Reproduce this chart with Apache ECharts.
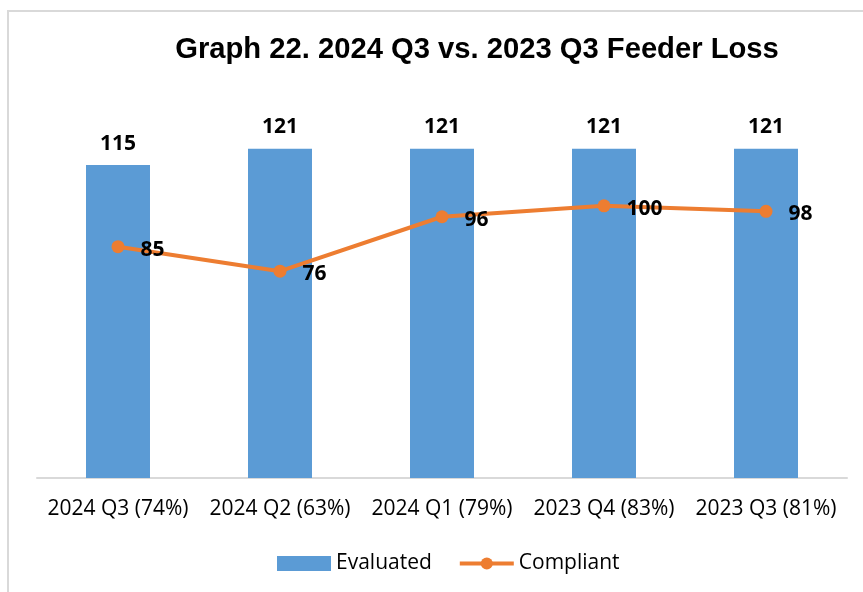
<!DOCTYPE html>
<html>
<head>
<meta charset="utf-8">
<script src="https://cdn.jsdelivr.net/npm/echarts@6/dist/echarts.min.js"></script>
<style>
    html, body { margin: 0; padding: 0; background: #fff; }
    #chartDiv { width: 863px; height: 592px; }
</style>
</head>
<body>
<div id="chartDiv"></div>
<script>
// Chart data
const categories = ['2024 Q3 (74%)', '2024 Q2 (63%)', '2024 Q1 (79%)', '2023 Q4 (83%)', '2023 Q3 (81%)'];
const evaluated = [115, 121, 121, 121, 121];
const compliant = [85, 76, 96, 100, 98];

const chartDom = document.getElementById('chartDiv');
const myChart = echarts.init(chartDom, null, { renderer: 'canvas' });

const option = {
    backgroundColor: '#fff',
    animation: false,
    title: {
        text: 'Graph 22. 2024 Q3 vs. 2023 Q3 Feeder Loss',
        left: 472,
        textAlign: 'center',
        top: 30,
        textStyle: {
            fontFamily: 'Liberation Sans',
            fontWeight: 'bold',
            fontSize: 29.2,
            color: '#000'
        }
    },
    graphic: [
        {
            type: 'rect',
            shape: { x: 8, y: 11, width: 900, height: 700 },
            style: { fill: 'none', stroke: '#d9d9d9', lineWidth: 2 },
            silent: true
        }
    ],
    legend: {
        data: [
            { name: 'Evaluated', icon: 'rect' },
            { name: 'Compliant', lineStyle: { width: 4 } }
        ],
        bottom: 13,
        left: 272,
        itemGap: 26,
        itemWidth: 54,
        itemHeight: 15,
        textStyle: { fontFamily: 'Open Sans', fontSize: 21, color: '#000' }
    },
    grid: { left: 37, right: 16, top: 97, bottom: 114 },
    xAxis: {
        type: 'category',
        data: categories,
        axisLine: { lineStyle: { color: '#d9d9d9', width: 2 } },
        axisTick: { show: false },
        axisLabel: {
            fontFamily: 'Open Sans',
            fontSize: 21,
            color: '#000',
            margin: 21,
            interval: 0
        }
    },
    yAxis: {
        type: 'value',
        min: 0,
        max: 140,
        show: false
    },
    series: [
        {
            name: 'Evaluated',
            type: 'bar',
            data: evaluated,
            barWidth: '39.5%',
            itemStyle: { color: '#5b9bd5' },
            label: {
                show: true,
                position: 'top',
                distance: 11,
                fontFamily: 'Open Sans',
                fontWeight: 'bold',
                fontSize: 21,
                color: '#000'
            }
        },
        {
            name: 'Compliant',
            type: 'line',
            data: compliant,
            symbol: 'circle',
            symbolSize: 13,
            lineStyle: { width: 4, color: '#ed7d31' },
            itemStyle: { color: '#ed7d31' },
            label: {
                show: true,
                position: 'right',
                distance: 16,
                offset: [0, 3],
                fontFamily: 'Open Sans',
                fontWeight: 'bold',
                fontSize: 21,
                color: '#000'
            }
        }
    ]
};

myChart.setOption(option);
</script>
</body>
</html>
